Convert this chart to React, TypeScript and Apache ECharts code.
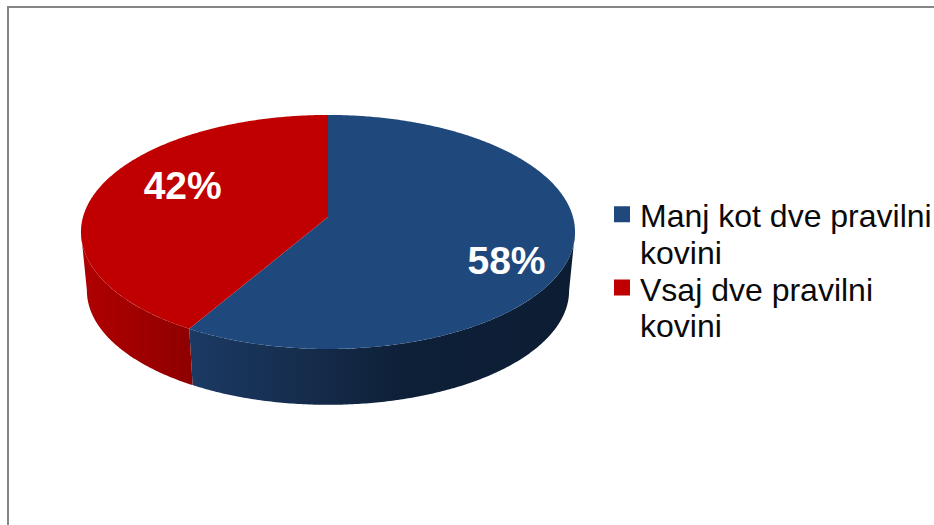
import React, { useEffect, useRef } from "react";
import * as echarts from "echarts";

const categories = ["Manj kot dve pravilni\nkovini", "Vsaj dve pravilni\nkovini"];
const values = [58.4, 41.6];
const topColors = ["#1F497D", "#C00000"];
const wallStops: [number, string][][] = [
  [[0, "#1C3A64"], [0.3, "#152C4C"], [0.55, "#0E2038"], [1, "#0C1D33"]],
  [[0, "#B00000"], [0.6, "#9C0000"], [1, "#8E0000"]],
];
const labelOffsets = [[4, 21], [21, -10]];

// Perspective projection of the disc
const CX = 328, CY = 217, A = 245, B = 115.1, K = 0.128, DEPTH = 59, LOWER = 0.976;
const total = values.reduce((a, b) => a + b, 0);

function project(theta: number, r: number, lower: boolean): [number, number] {
  const u = r * Math.sin(theta);
  const v = -r * Math.cos(theta);
  const w = 1 - K * v;
  const s = lower ? LOWER : 1;
  return [CX + (A * s * u) / w, CY + (lower ? DEPTH : 0) + (B * s * v) / w];
}

function arc(from: number, to: number, lower: boolean, r = 1) {
  const pts: [number, number][] = [];
  const n = Math.max(2, Math.ceil(Math.abs(to - from) / 0.01));
  for (let i = 0; i <= n; i++) pts.push(project(from + ((to - from) * i) / n, r, lower));
  return pts;
}

const wallFrom = Math.acos(-K);
const wallTo = 2 * Math.PI - wallFrom;

function renderSlice(index: number) {
  const before = values.slice(0, index).reduce((a, b) => a + b, 0);
  const start = (before / total) * 2 * Math.PI;
  const end = ((before + values[index]) / total) * 2 * Math.PI;
  const children: any[] = [];
  const a = Math.max(start, wallFrom);
  const b = Math.min(end, wallTo);
  if (b > a) {
    children.push({
      type: "polygon",
      shape: { points: [...arc(a, b, false), ...arc(b, a, true)] },
      style: {
        fill: new echarts.graphic.LinearGradient(
          0, 0, 1, 0,
          wallStops[index].map(([offset, color]) => ({ offset, color }))
        ),
      },
    });
  }
  children.push({
    type: "polygon",
    shape: { points: [project(0, 0, false), ...arc(start, end, false)] },
    style: { fill: topColors[index] },
  });
  const mid = (start + end) / 2;
  const p = project(mid, 0.72, false);
  children.push({
    type: "text",
    x: p[0] + labelOffsets[index][0],
    y: p[1] + labelOffsets[index][1],
    style: {
      text: `${Math.round((values[index] / total) * 100)}%`,
      fill: "#FFFFFF",
      font: 'bold 39px "Liberation Sans"',
      align: "center",
      verticalAlign: "middle",
    },
  });
  return { type: "group", children };
}

const legendIcon = "path://M0 0H0 M0 8H16V24H0Z M21 73H21";

export default function App() {
  const ref = useRef<HTMLDivElement>(null);
  useEffect(() => {
    const chart = echarts.init(ref.current!, undefined, { renderer: "svg" });
    chart.setOption({
      animation: false,
      backgroundColor: "#FFFFFF",
      legend: {
        orient: "vertical",
        left: 614,
        top: 198,
        padding: 0,
        itemGap: 0,
        itemWidth: 21,
        itemHeight: 73,
        selectedMode: false,
        data: categories.map((name, i) => ({
          name,
          icon: legendIcon,
          itemStyle: { color: topColors[i], borderWidth: 0 },
        })),
        textStyle: {
          fontFamily: "Liberation Sans",
          fontSize: 32,
          lineHeight: 36.7,
          color: "#0A0A0A",
        },
      },
      graphic: [
        { type: "rect", shape: { x: 7, y: 6, width: 2, height: 519 }, style: { fill: "#868686" } },
        { type: "rect", shape: { x: 7, y: 6, width: 927, height: 2 }, style: { fill: "#868686" } },
      ],
      series: categories.map((name, i) => ({
        type: "custom",
        name,
        coordinateSystem: "none",
        itemStyle: { color: topColors[i] },
        data: [values[i]],
        renderItem: () => renderSlice(i),
      })),
    });
    return () => chart.dispose();
  }, []);
  return (
    <div
      ref={ref}
      style={{ position: "absolute", left: 0, top: 0, width: 934, height: 525 }}
    />
  );
}
